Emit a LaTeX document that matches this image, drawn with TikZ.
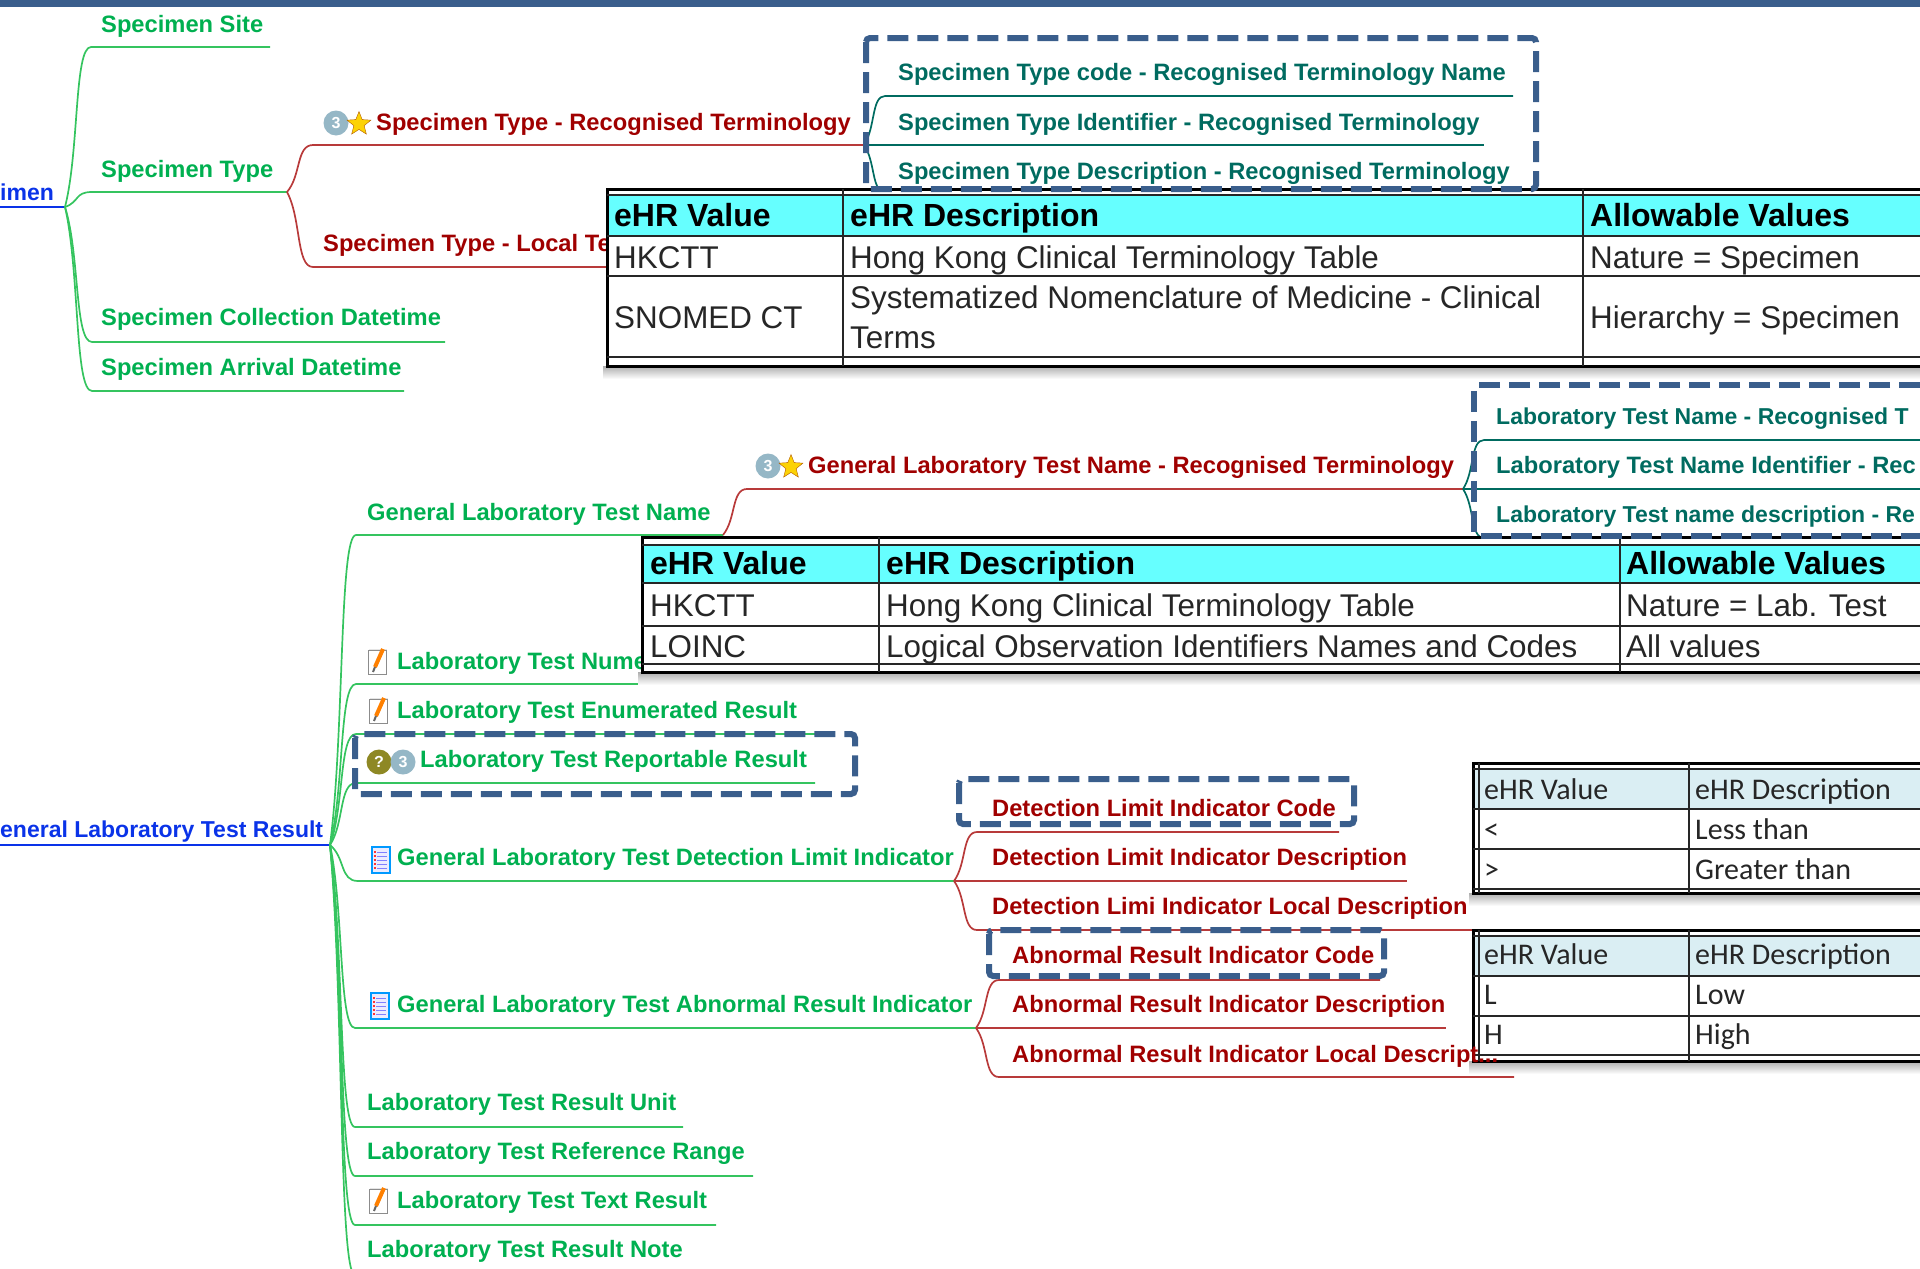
\documentclass[tikz,border=0pt]{standalone}
\usepackage{fontspec}
\setmainfont{Liberation Sans}
\newfontfamily\calib{Carlito}
\usetikzlibrary{shapes.geometric}
\definecolor{cgreen}{HTML}{00B050}
\definecolor{lgreen}{HTML}{35C45F}
\definecolor{cred}{HTML}{A00000}
\definecolor{lred}{HTML}{B83A3A}
\definecolor{cteal}{HTML}{006B60}
\definecolor{cblue}{HTML}{0A33E8}
\definecolor{cbox}{HTML}{3A5E8C}
\definecolor{ccyan}{HTML}{66FFFF}
\definecolor{cpale}{HTML}{DAEEF3}
\tikzset{
  lbl/.style={inner sep=0pt,anchor=base west,font=\fontsize{23.7}{24}\selectfont\bfseries},
  lblsmall/.style={inner sep=0pt,anchor=base west,font=\fontsize{23}{24}\selectfont\bfseries},
  cellhead/.style={inner sep=0pt,anchor=base west,font=\fontsize{32}{40}\selectfont\bfseries,text=black},
  cellbody/.style={inner sep=0pt,anchor=base west,font=\fontsize{31.4}{40}\selectfont,text=black!85},
  cellhop/.style={inner sep=0pt,anchor=base west,font=\fontsize{30}{32}\calib\selectfont,text=black!85},
  dashbox/.style={draw=cbox,line width=6pt,dash pattern=on 21pt off 9pt,rounded corners=4pt},
  rulea/.style={draw=black!85,line width=2pt},
  ruleb/.style={draw=black,line width=3pt},
  numicon/.style={circle,minimum size=25pt,inner sep=0pt,text=white,font=\fontsize{16}{16}\selectfont\bfseries},
  staricon/.style={star,star points=5,star point ratio=2.3,minimum size=25pt,inner sep=0pt,fill=yellow!70!orange,draw=orange!70!black,line width=.4pt},
}
% branch: colour, junction name, jx, jy, x start, Y, x end, branch name
\newcommand{\brn}[8]{%
  \pgfmathsetmacro{\cax}{#3+0.55*(#5-#3)}%
  \pgfmathsetmacro{\cay}{#4+0.35*(#6-#4)}%
  \pgfmathsetmacro{\cbx}{#3+0.35*(#5-#3)}%
  \coordinate (#8-s) at (#5,#6);
  \coordinate (#8-e) at (#7,#6);
  \draw[#1,line width=1.7pt] (#2) .. controls (\cax,\cay) and (\cbx,#6) .. (#8-s) -- (#8-e);
}
\newcommand{\tx}[5]{\pgfmathsetmacro{\by}{#4+7}\node[lbl,text=#2] (#1) at (#3,\by) {#5};}
\newcommand{\txs}[5]{\pgfmathsetmacro{\by}{#4+7}\node[lblsmall,text=#2] (#1) at (#3,\by) {#5};}
\newcommand{\cellh}[4]{\pgfmathsetmacro{\by}{#3+11}\node[cellhead] (#4) at (#2,\by) {#1};}
\newcommand{\cellb}[4]{\pgfmathsetmacro{\by}{#3+10}\node[cellbody] (#4) at (#2,\by) {#1};}
\newcommand{\cellc}[4]{\pgfmathsetmacro{\by}{#3+8}\node[cellhop] (#4) at (#2,\by) {#1};}
% note icon with pencil
\newcommand{\noteicon}[2]{%
  \begin{scope}[shift={(#1,#2)}]
    \fill[black!10] (-8,-13) rectangle (10,13);
    \draw[black!45,line width=1pt,fill=white] (-9,-12) rectangle (9,12);
    \draw[orange,line width=4pt] (6,-13) -- (-2,5);
    \draw[black!60,line width=2pt] (-2,5) -- (-4,10);
  \end{scope}}
% list icon
\newcommand{\listicon}[2]{%
  \begin{scope}[shift={(#1,#2)}]
    \draw[blue!40!cyan,line width=1.2pt,fill=blue!8] (-9,-13) rectangle (9,13);
    \foreach \yy in {-8,-4,0,4,8}{\draw[blue!50,line width=1pt] (-4,\yy) -- (6,\yy);\fill[red!80] (-7,\yy-1) rectangle (-5,\yy+1);}
  \end{scope}}
% table frame
\newcommand{\tableframe}[7]{% left, top, header top, header bottom, bottom row line, outer bottom, fill
  \shade[top color=black!32,bottom color=white] (#1-4,#6) rectangle (1920,#6+13);
  \fill[white] (#1,#2) rectangle (1920,#6);
  \fill[#7] (#1,#3) rectangle (1920,#4);
  \draw[ruleb] (1920,#2) -- (#1,#2) -- (#1,#6) -- (1920,#6);
  \draw[rulea] (#1,#3) -- (1920,#3);
  \draw[rulea] (#1,#4) -- (1920,#4);
  \draw[rulea] (#1,#5) -- (1920,#5);
}
\begin{document}
\begin{tikzpicture}[x=1pt,y=-1pt]
\useasboundingbox (0,0) rectangle (1920,1269);
\fill[cbox] (0,0) rectangle (1920,7);

% ---------- Specimen branch
\coordinate (jA) at (65,207);
\coordinate (rootA-s) at (0,207);
\draw[cblue,line width=1.7pt] (rootA-s) -- (jA);
\txs{rootA}{cblue}{0}{193}{imen}
\brn{lgreen}{jA}{65}{207}{91}{47}{270}{site}
\brn{lgreen}{jA}{65}{207}{92}{192}{287}{stype}
\brn{lgreen}{jA}{65}{207}{92}{342}{445}{scoll}
\brn{lgreen}{jA}{65}{207}{92}{391}{404}{sarr}
\tx{tsite}{cgreen}{101}{25}{Specimen Site}
\tx{tstype}{cgreen}{101}{170}{Specimen Type}
\tx{tscoll}{cgreen}{101}{318}{Specimen Collection Datetime}
\tx{tsarr}{cgreen}{101}{368}{Specimen Arrival Datetime}

\coordinate (jB) at (287,192);
\brn{lred}{jB}{287}{192}{313}{145}{864}{srec}
\brn{lred}{jB}{287}{192}{313}{267}{700}{sloc}
\node[numicon,fill=cyan!35!gray!75] (i1) at (336,123) {3};
\node[staricon] (i2) at (359,124) {};
\tx{tsrec}{cred}{376}{123}{Specimen Type - Recognised Terminology}
\tx{tsloc}{cred}{323}{244}{Specimen Type - Local Te}

\coordinate (jC) at (864,145);
\brn{cteal}{jC}{864}{145}{885}{96}{1513}{stc}
\brn{cteal}{jC}{864}{145}{885}{145}{1484}{sti}
\brn{cteal}{jC}{864}{145}{885}{192}{1513}{std}
\tx{tstc}{cteal}{898}{73}{Specimen Type code - Recognised Terminology Name}
\tx{tsti}{cteal}{898}{123}{Specimen Type Identifier - Recognised Terminology}
\tx{tstd}{cteal}{898}{172}{Specimen Type Description - Recognised Terminology}

% ---------- Result branch
\coordinate (jD) at (330,845);
\coordinate (rootB-s) at (0,845);
\draw[cblue,line width=1.7pt] (rootB-s) -- (jD);
\txs{rootB}{cblue}{0}{830}{eneral Laboratory Test Result}
\brn{lgreen}{jD}{330}{845}{356}{535}{723}{gname}
\brn{lgreen}{jD}{330}{845}{356}{684}{762}{gnum}
\brn{lgreen}{jD}{330}{845}{356}{734}{833}{genum}
\brn{lgreen}{jD}{330}{845}{356}{783}{815}{grep}
\brn{lgreen}{jD}{330}{845}{358}{881}{956}{gdet}
\brn{lgreen}{jD}{330}{845}{355}{1028}{976}{gabn}
\brn{lgreen}{jD}{330}{845}{355}{1127}{683}{gunit}
\brn{lgreen}{jD}{330}{845}{355}{1176}{753}{grange}
\brn{lgreen}{jD}{330}{845}{355}{1225}{716}{gtext}
\brn{lgreen}{jD}{330}{845}{355}{1275}{700}{gnote}
\tx{tgname}{cgreen}{367}{513}{General Laboratory Test Name}
\noteicon{377}{662}
\tx{tgnum}{cgreen}{397}{662}{Laboratory Test Nume}
\noteicon{378}{711}
\tx{tgenum}{cgreen}{397}{711}{Laboratory Test Enumerated Result}
\node[numicon,fill=olive!75!gray] (i3) at (379,762) {?};
\node[numicon,fill=cyan!35!gray!75] (i4) at (403,762) {3};
\tx{tgrep}{cgreen}{420}{760}{Laboratory Test Reportable Result}
\listicon{381}{860}
\tx{tgdet}{cgreen}{397}{858}{General Laboratory Test Detection Limit Indicator}
\listicon{380}{1006}
\tx{tgabn}{cgreen}{397}{1005}{General Laboratory Test Abnormal Result Indicator}
\tx{tgunit}{cgreen}{367}{1103}{Laboratory Test Result Unit}
\tx{tgrange}{cgreen}{367}{1152}{Laboratory Test Reference Range}
\noteicon{378}{1201}
\tx{tgtext}{cgreen}{397}{1201}{Laboratory Test Text Result}
\tx{tgnote}{cgreen}{367}{1250}{Laboratory Test Result Note}

% recognised terminology of the test name
\coordinate (jE) at (723,535);
\brn{lred}{jE}{723}{535}{747}{489}{1463}{grec}
\node[numicon,fill=cyan!35!gray!75] (i5) at (768,466) {3};
\node[staricon] (i6) at (791,467) {};
\tx{tgrec}{cred}{808}{466}{General Laboratory Test Name - Recognised Terminology}
\coordinate (jF) at (1463,489);
\brn{cteal}{jF}{1463}{489}{1484}{440}{1920}{ln}
\brn{cteal}{jF}{1463}{489}{1484}{489}{1920}{li}
\brn{cteal}{jF}{1463}{489}{1484}{538}{1920}{ld}
\txs{tln}{cteal}{1496}{417}{Laboratory Test Name - Recognised T}
\tx{tli}{cteal}{1496}{466}{Laboratory Test Name Identifier - Rec}
\txs{tld}{cteal}{1496}{515}{Laboratory Test name description - Re}

% detection limit
\coordinate (jG) at (954,881);
\brn{lred}{jG}{954}{881}{977}{832}{1339}{dcode}
\brn{lred}{jG}{954}{881}{977}{881}{1407}{ddesc}
\brn{lred}{jG}{954}{881}{977}{930}{1504}{dloc}
\tx{tdcode}{cred}{992}{809}{Detection Limit Indicator Code}
\tx{tddesc}{cred}{992}{858}{Detection Limit Indicator Description}
\tx{tdloc}{cred}{992}{907}{Detection Limi Indicator Local Description}

% abnormal
\coordinate (jH) at (976,1028);
\brn{lred}{jH}{976}{1028}{999}{980}{1380}{acode}
\brn{lred}{jH}{976}{1028}{999}{1028}{1446}{adesc}
\brn{lred}{jH}{976}{1028}{999}{1077}{1514}{aloc}
\tx{tacode}{cred}{1012}{956}{Abnormal Result Indicator Code}
\tx{tadesc}{cred}{1012}{1005}{Abnormal Result Indicator Description}

% ---------- Table 1
\tableframe{607}{189}{195}{236}{357}{366}{ccyan}
\draw[rulea] (607,276) -- (1920,276);
\draw[rulea] (843,189) -- (843,366);
\draw[rulea] (1583,189) -- (1583,366);
\cellh{eHR Value}{614}{215}{a1}
\cellh{eHR Description}{850}{215}{a2}
\cellh{Allowable Values}{1590}{215}{a3}
\cellb{HKCTT}{614}{258}{b1}
\cellb{Hong Kong Clinical Terminology Table}{850}{258}{b2}
\cellb{Nature = Specimen}{1590}{258}{b3}
\cellb{SNOMED CT}{614}{318}{c1}
\cellb{Systematized Nomenclature of Medicine - Clinical}{850}{298}{c2}
\cellb{Terms}{850}{338}{c2b}
\cellb{Hierarchy = Specimen}{1590}{318}{c3}

% ---------- Table 2
\tableframe{642}{537}{545}{583}{664}{672}{ccyan}
\draw[rulea] (642,626) -- (1920,626);
\draw[rulea] (879,537) -- (879,672);
\draw[rulea] (1620,537) -- (1620,672);
\cellh{eHR Value}{650}{563}{d1}
\cellh{eHR Description}{886}{563}{d2}
\cellh{Allowable Values}{1626}{563}{d3}
\cellb{HKCTT}{650}{606}{e1}
\cellb{Hong Kong Clinical Terminology Table}{886}{606}{e2}
\cellb{Nature = Lab. Test}{1626}{606}{e3}
\cellb{LOINC}{650}{647}{f1}
\cellb{Logical Observation Identifiers Names and Codes}{886}{647}{f2}
\cellb{All values}{1626}{647}{f3}

% ---------- Table 3
\tableframe{1473}{763}{769}{809}{889}{893}{cpale}
\draw[rulea] (1479,763) -- (1479,893);
\draw[rulea] (1473,849) -- (1920,849);
\draw[rulea] (1689,763) -- (1689,893);
\cellc{eHR Value}{1484}{791}{g1}
\cellc{eHR Description}{1695}{791}{g2}
\cellc{<}{1484}{831}{h1}
\cellc{Less than}{1695}{831}{h2}
\cellc{>}{1484}{871}{k1}
\cellc{Greater than}{1695}{871}{k2}

% ---------- Table 4
\tableframe{1473}{930}{936}{976}{1055}{1061}{cpale}
\draw[rulea] (1479,930) -- (1479,1061);
\draw[rulea] (1473,1016) -- (1920,1016);
\draw[rulea] (1689,930) -- (1689,1061);
\cellc{eHR Value}{1484}{956}{m1}
\cellc{eHR Description}{1695}{956}{m2}
\cellc{L}{1484}{996}{n1}
\cellc{Low}{1695}{996}{n2}
\cellc{H}{1484}{1036}{p1}
\cellc{High}{1695}{1036}{p2}

\tx{taloc}{cred}{1012}{1055}{Abnormal Result Indicator Local Descript...}

% ---------- dashed frames
\draw[dashbox] (866,38) rectangle (1536,189);
\draw[dashbox] (1920,385) -- (1474,385) -- (1474,536) -- (1920,536);
\draw[dashbox] (355,734) rectangle (855,794);
\draw[dashbox] (959,779) rectangle (1354,824);
\draw[dashbox] (989,930) rectangle (1384,976);
\end{tikzpicture}
\end{document}
